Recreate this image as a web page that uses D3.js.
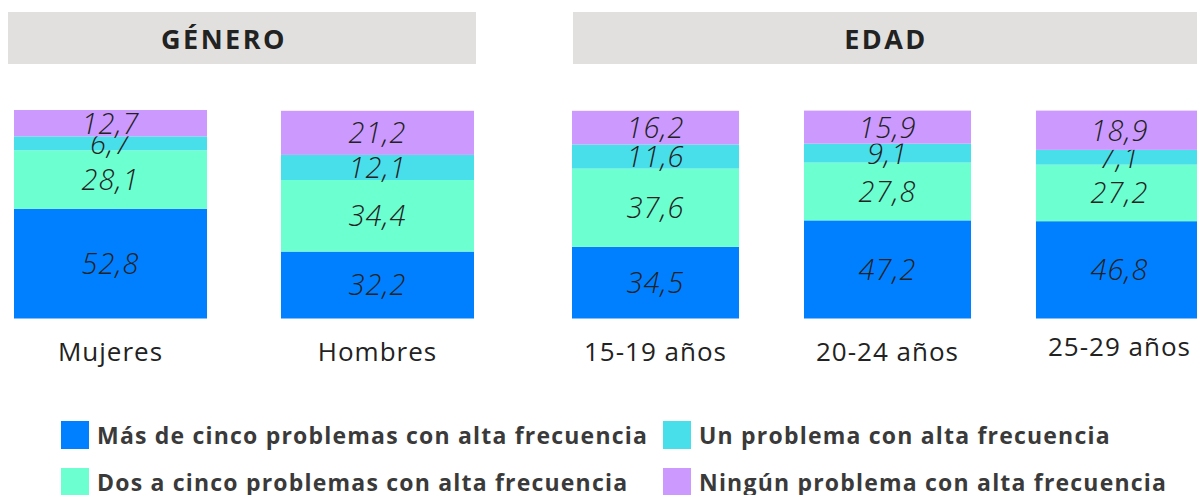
<!DOCTYPE html>
<html>
<head>
<meta charset="utf-8">
<script src="https://cdn.jsdelivr.net/npm/d3@7"></script>
<style>
  body { margin: 0; background: #fff; }
  svg { display: block; }
  text { font-family: "Open Sans", Lato, sans-serif; }
</style>
</head>
<body>
<div class="chart"></div>
<script>
// datos
const generoCats = ["Mujeres", "Hombres"];
const edadCats = ["15-19 años", "20-24 años", "25-29 años"];
const seriesNames = [
  "Más de cinco problemas con alta frecuencia",
  "Dos a cinco problemas con alta frecuencia",
  "Un problema con alta frecuencia",
  "Ningún problema con alta frecuencia"
];
// orden de abajo hacia arriba: mas de cinco, dos a cinco, uno, ninguno
const masCinco = [52.8, 32.2, 34.5, 47.2, 46.8];
const dosCinco = [28.1, 34.4, 37.6, 27.8, 27.2];
const unoProb  = [6.7, 12.1, 11.6, 9.1, 7.1];
const ninguno  = [12.7, 21.2, 16.2, 15.9, 18.9];
const colors = ["#0080ff", "#6cffd0", "#48dfea", "#cc99ff"];

const WIDTH = 1197, HEIGHT = 495;

const svg = d3.select(".chart").append("svg")
  .attr("width", WIDTH)
  .attr("height", HEIGHT);

const allCats = generoCats.concat(edadCats);
const table = allCats.map((c, i) => ({
  cat: c,
  v: [masCinco[i], dosCinco[i], unoProb[i], ninguno[i]]
}));

const yScale = d3.scaleLinear().domain([0, 100]).range([318.5, 110.6]);

const xGenero = d3.scaleBand().domain(generoCats).range([14, 474]).paddingInner(0.277);
const xEdad = d3.scaleBand().domain(edadCats).range([572, 1203]).paddingInner(0.28);

function xOf(c) { return generoCats.includes(c) ? xGenero(c) : xEdad(c); }
function bwOf(c) { return generoCats.includes(c) ? xGenero.bandwidth() : xEdad.bandwidth(); }

// cabeceras
const headers = [
  {t: "GÉNERO", x0: 8, x1: 476, tx: 224},
  {t: "EDAD", x0: 573, x1: 1210, tx: 886}
];
svg.selectAll(".head").data(headers).enter()
  .append("rect")
  .attr("x", d => d.x0).attr("y", 12)
  .attr("width", d => d.x1 - d.x0).attr("height", 52)
  .attr("fill", "#e1e0df");
svg.selectAll(".headtxt").data(headers).enter()
  .append("text")
  .text(d => d.t)
  .attr("x", d => d.tx).attr("y", 49)
  .style("text-anchor", "middle")
  .style("font-weight", "bold")
  .style("font-size", "27px")
  .style("letter-spacing", "2.5px")
  .attr("fill", "#222");

// barras apiladas
const stack = d3.stack().keys([0, 1, 2, 3]).value((d, k) => d.v[k]);
const layers = stack(table);

const g = svg.selectAll(".layer").data(layers).enter()
  .append("g")
  .attr("fill", (d, i) => colors[i]);

g.selectAll("rect").data(d => d).enter()
  .append("rect")
  .attr("x", d => xOf(d.data.cat))
  .attr("width", d => bwOf(d.data.cat))
  .attr("y", d => yScale(d[1]))
  .attr("height", d => yScale(d[0]) - yScale(d[1]));

g.selectAll("text").data(d => d).enter()
  .append("text")
  .text(d => d3.format(".1f")(d[1] - d[0]).replace(".", ","))
  .attr("x", d => xOf(d.data.cat) + bwOf(d.data.cat) / 2)
  .attr("y", d => (yScale(d[0]) + yScale(d[1])) / 2)
  .attr("dy", "0.36em")
  .style("text-anchor", "middle")
  .style("font-style", "italic")
  .style("font-weight", 300)
  .style("font-size", "29px")
  .style("letter-spacing", "1px")
  .attr("fill", "#222");

// etiquetas de categoria
svg.selectAll(".cat").data(allCats).enter()
  .append("text")
  .text(d => d)
  .attr("x", d => xOf(d) + bwOf(d) / 2)
  .attr("y", (d, i) => i == allCats.length - 1 ? 356 : 361)
  .style("text-anchor", "middle")
  .style("font-size", "26px")
  .style("letter-spacing", "1px")
  .attr("fill", "#222");

// leyenda
const legPos = [[61, 421], [61, 468], [663, 421], [663, 468]];
const leg = svg.selectAll(".leg").data(seriesNames).enter()
  .append("g")
  .attr("transform", (d, i) => "translate(" + legPos[i][0] + "," + legPos[i][1] + ")");
leg.append("rect")
  .attr("width", 28).attr("height", 28)
  .attr("fill", (d, i) => colors[i]);
leg.append("text")
  .text(d => d)
  .attr("x", 36).attr("y", 23)
  .style("font-weight", "bold")
  .style("font-size", "23px")
  .style("letter-spacing", "1.2px")
  .attr("fill", "#3a3a3a");
</script>
</body>
</html>
